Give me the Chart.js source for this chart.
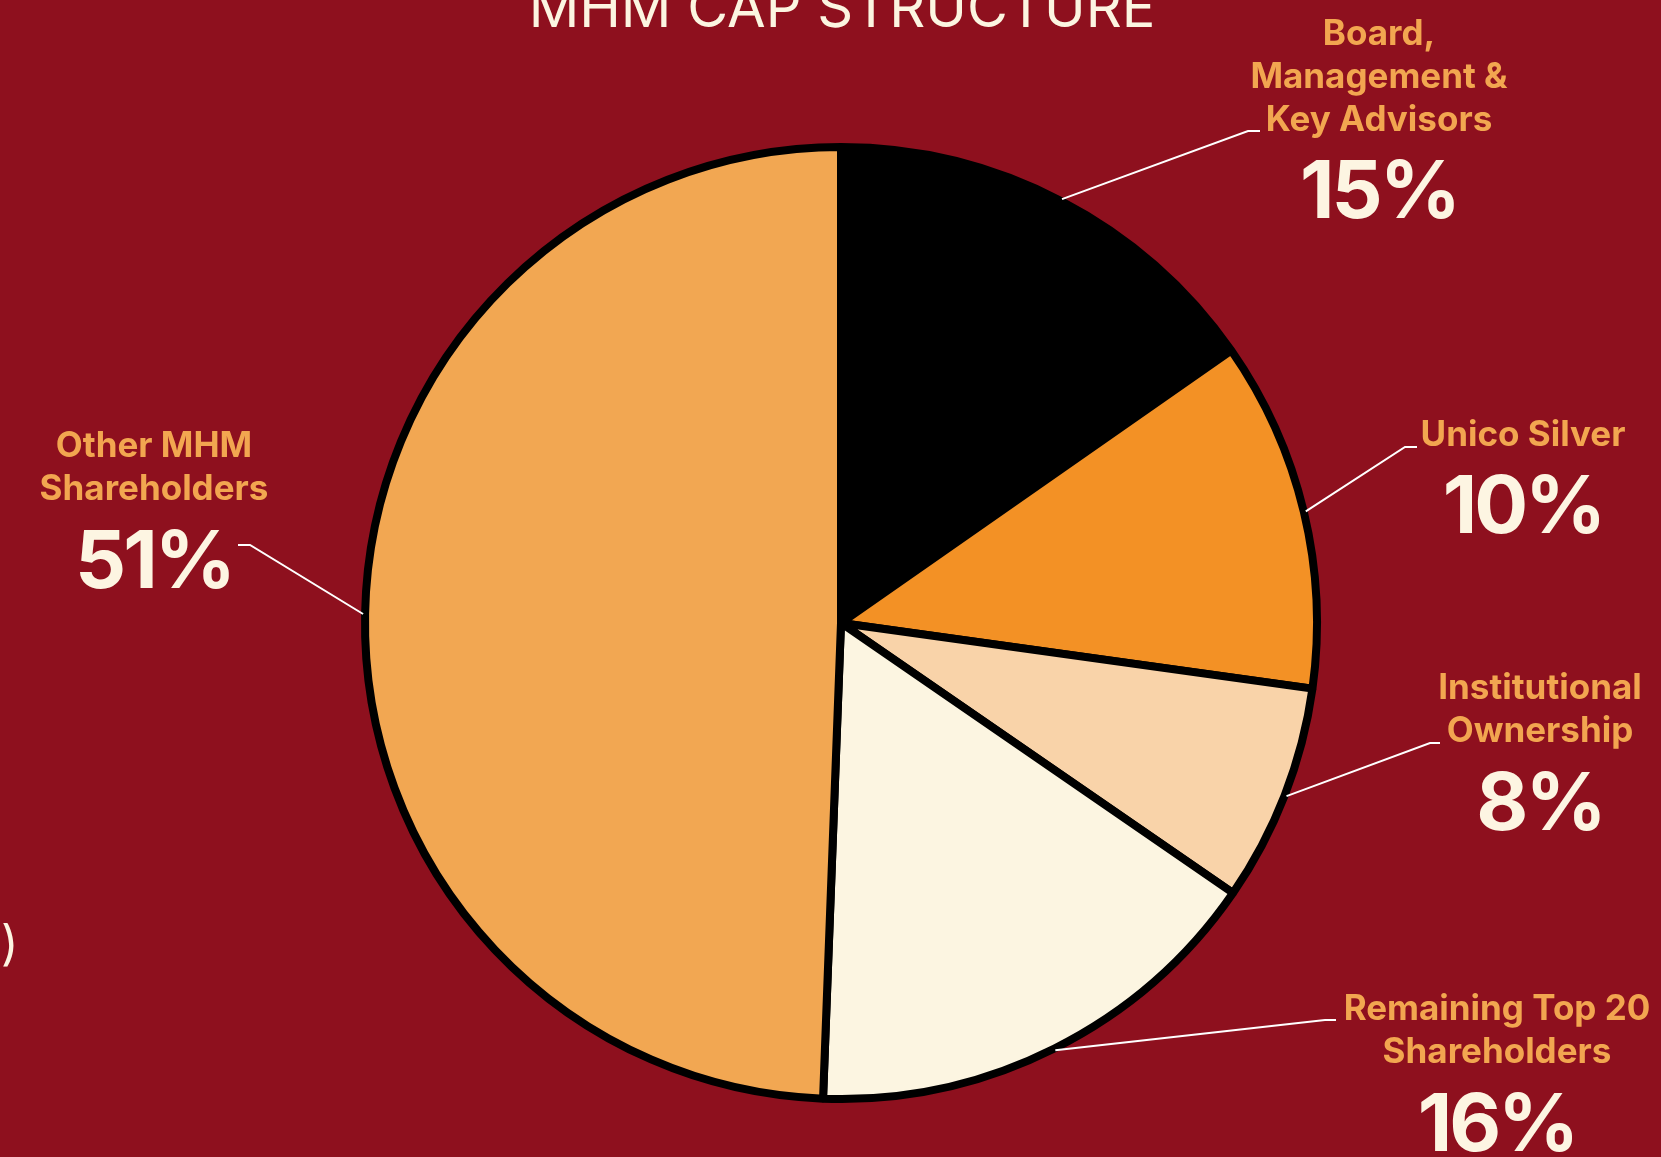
<!DOCTYPE html>
<html>
<head>
<meta charset="utf-8">
<script src="https://cdn.jsdelivr.net/npm/chart.js@4"></script>
<style>
  html, body { margin: 0; padding: 0; background: #8e101e; }
  #wrap { width: 1661px; height: 1157px; position: relative; }
</style>
</head>
<body>
<div id="wrap"><canvas id="capChart"></canvas></div>
<script>
// slice sizes as drawn in the picture, and the percentages printed beside them
const categories = ['Board, Management & Key Advisors', 'Unico Silver', 'Institutional Ownership', 'Remaining Top 20 Shareholders', 'Other MHM Shareholders'];
const labelLines = [['Board,', 'Management &', 'Key Advisors'], ['Unico Silver'], ['Institutional', 'Ownership'], ['Remaining Top 20', 'Shareholders'], ['Other MHM', 'Shareholders']];
const sliceShares = [15.3, 11.9, 7.4, 16.0, 49.4];
const percentLabels = ['15%', '10%', '8%', '16%', '51%'];
const sliceColors = ['#000000', '#f39125', '#f9d3a9', '#fcf5e1', '#f2a752'];

// where each callout sits (text centre x, first baseline, percent baseline, elbow of the leader)
const callouts = [
    { x: 1379, y: 45, py: 218, ex: 1248, ey: 131, tx: 1260 },
    { x: 1523, y: 446, py: 533, ex: 1405, ey: 447, tx: 1417 },
    { x: 1540, y: 699, py: 830, ex: 1430, ey: 743, tx: 1440 },
    { x: 1497, y: 1020, py: 1151, ex: 1325, ey: 1020, tx: 1336 },
    { x: 154, y: 457, py: 588, ex: 250, ey: 545, tx: 238 }
];

const calloutPlugin = {
    id: 'callouts',
    afterDraw(chart) {
        const ctx = chart.ctx;
        const arcs = chart.getDatasetMeta(0).data;
        ctx.save();

        // title, cut off by the top edge
        ctx.fillStyle = '#fcf5e1';
        ctx.font = '400 56px Inter';
        ctx.textAlign = 'center';
        ctx.textBaseline = 'alphabetic';
        ctx.fillText('MHM CAP STRUCTURE', 842, 27);

        // stray bracket at the left edge
        ctx.font = '400 48px Inter';
        ctx.textAlign = 'left';
        ctx.fillText(')', 1, 960);

        arcs.forEach((arc, i) => {
            const p = arc.getProps(['x', 'y', 'startAngle', 'endAngle', 'outerRadius'], true);
            const mid = (p.startAngle + p.endAngle) / 2;
            const r = p.outerRadius + 2;
            const c = callouts[i];

            ctx.strokeStyle = '#ffffff';
            ctx.lineWidth = 2;
            ctx.beginPath();
            ctx.moveTo(p.x + Math.cos(mid) * r, p.y + Math.sin(mid) * r);
            ctx.lineTo(c.ex, c.ey);
            ctx.lineTo(c.tx, c.ey);
            ctx.stroke();

            ctx.textAlign = 'center';
            ctx.letterSpacing = '0px';
            ctx.fillStyle = '#f2a650';
            ctx.font = '700 35px Inter';
            labelLines[i].forEach((line, j) => {
                ctx.fillText(line, c.x, c.y + j * 43);
            });

            ctx.fillStyle = '#fdf5e2';
            ctx.font = '700 80px Inter';
            ctx.letterSpacing = '-3px';
            ctx.fillText(percentLabels[i], c.x, c.py);
        });
        ctx.restore();
    }
};

const ctx = document.getElementById('capChart').getContext('2d');
new Chart(ctx, {
    type: 'pie',
    data: {
        labels: categories,
        datasets: [{
            data: sliceShares,
            backgroundColor: sliceColors,
            borderColor: '#000000',
            borderWidth: 8
        }]
    },
    options: {
        responsive: true,
        maintainAspectRatio: false,
        animation: false,
        events: [],
        layout: { padding: { left: 361, right: 340, top: 143, bottom: 54 } },
        plugins: {
            legend: { display: false },
            tooltip: { enabled: false },
            title: { display: false }
        }
    },
    plugins: [calloutPlugin]
});
</script>
</body>
</html>
